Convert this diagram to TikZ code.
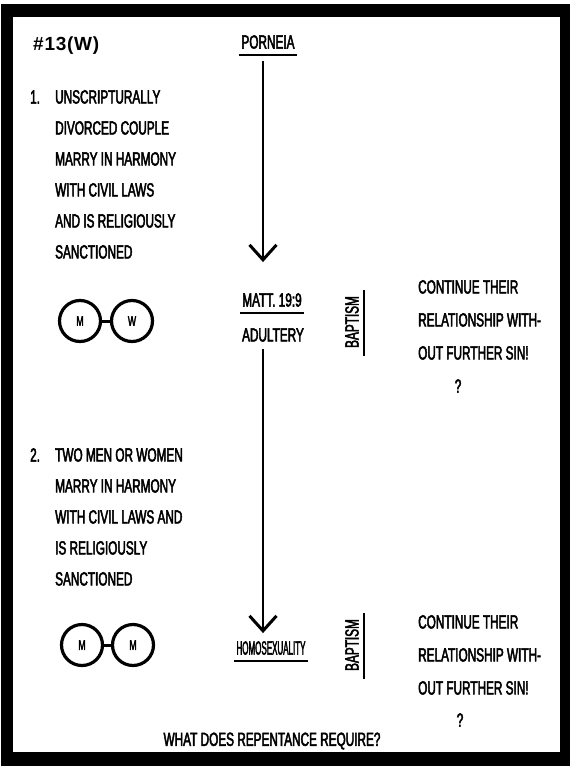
\documentclass[tikz,border=0pt]{standalone}
\usepackage{fontspec}
\setmainfont{Liberation Sans}
\newfontfamily\typedfont[FakeStretch=0.62,FakeBold=2.5]{Liberation Sans}
\newfontfamily\titlefont[LetterSpace=4]{Liberation Sans Bold}
\usetikzlibrary{
    arrows.meta,
    positioning
}

\begin{document}
\begin{tikzpicture}[
    x=1pt, y=-1pt,
    font=\typedfont\fontsize{19}{31}\selectfont,
    listtext/.style={
        anchor=north west,
        align=left,
        inner sep=0pt
    },
    sidetext/.style={
        anchor=north west,
        align=left,
        inner sep=0pt,
        font=\typedfont\fontsize{19}{33}\selectfont
    },
    heading/.style={
        inner xsep=2pt,
        inner ysep=6pt
    },
    person/.style={
        circle,
        draw=black,
        line width=3.2pt,
        minimum size=41pt,
        inner sep=0pt,
        font=\typedfont\fontsize{14}{14}\selectfont
    },
    tie/.style={
        line width=3pt
    },
    rule/.style={
        line width=1.5pt
    },
    arrow/.style={
        -{Straight Barb[length=15pt,width=27pt,line width=3pt]},
        line width=2pt
    },
    rite/.style={
        rotate=90,
        inner sep=0pt
    }
]

% =========================================================
% Frame
% =========================================================
\useasboundingbox (0,0) rectangle (571,768);
\fill[black] (1,4) rectangle (570,766);
\fill[white] (13,17) rectangle (560,752);

% =========================================================
% Cases
% =========================================================
\node[anchor=west, inner sep=0pt, font=\titlefont\fontsize{19}{19}\selectfont] (title) at (33,46) {\#13(W)};

\node[anchor=west, inner sep=0pt] (num1) at (30,97) {1.};
\node[listtext] (case1) at (55,90) {UNSCRIPTURALLY\\
DIVORCED COUPLE\\
MARRY IN HARMONY\\
WITH CIVIL LAWS\\
AND IS RELIGIOUSLY\\
SANCTIONED};

\node[person] (man1) at (80,321) {M};
\node[person] (woman1) at (132,321) {W};
\draw[tie] (man1) -- (woman1);

\node[anchor=west, inner sep=0pt] (num2) at (30,455) {2.};
\node[listtext] (case2) at (55,448) {TWO MEN OR WOMEN\\
MARRY IN HARMONY\\
WITH CIVIL LAWS AND\\
IS RELIGIOUSLY\\
SANCTIONED};

\node[person] (man2) at (82,645) {M};
\node[person] (man3) at (133,645) {M};
\draw[tie] (man2) -- (man3);

% =========================================================
% Middle column
% =========================================================
\node[heading] (porneia) at (268,42) {PORNEIA};
\draw[rule] (porneia.south west) -- (porneia.south east);

\node[heading] (matt) at (272,300) {MATT. 19:9};
\draw[rule] (matt.south west) -- (matt.south east);

\node[heading] (adultery) at (273,335) {ADULTERY};

\node[heading] (homo) at (271,648) {\scalebox{0.68}[1]{HOMOSEXUALITY}};
\draw[rule] (homo.south west) -- (homo.south east);

\draw[arrow, shorten <=6pt, shorten >=25pt] ([xshift=-5pt]porneia.south) -- ([xshift=-9pt]matt.north);
\draw[arrow, shorten <=1pt, shorten >=2pt] ([xshift=-10pt]adultery.south) -- ([xshift=-8pt]homo.north);

% =========================================================
% Baptism and repentance
% =========================================================
\node[rite] (baptism1) at (352,322) {BAPTISM};
\draw[rule, shorten <=-8pt, shorten >=-6pt] ([xshift=5pt]baptism1.south west) -- ([xshift=5pt]baptism1.south east);

\node[sidetext] (cont1) at (418,280) {CONTINUE THEIR\\
RELATIONSHIP WITH-\\
OUT FURTHER SIN!};
\node[inner sep=0pt] (ask1) at (458,386) {?};

\node[rite] (baptism2) at (352,645) {BAPTISM};
\draw[rule, shorten <=-8pt, shorten >=-6pt] ([xshift=5pt]baptism2.south west) -- ([xshift=5pt]baptism2.south east);

\node[sidetext] (cont2) at (418,615) {CONTINUE THEIR\\
RELATIONSHIP WITH-\\
OUT FURTHER SIN!};
\node[inner sep=0pt] (ask2) at (460,720) {?};

\node[inner sep=0pt] (question) at (272,741) {WHAT DOES REPENTANCE REQUIRE?};

\end{tikzpicture}
\end{document}
